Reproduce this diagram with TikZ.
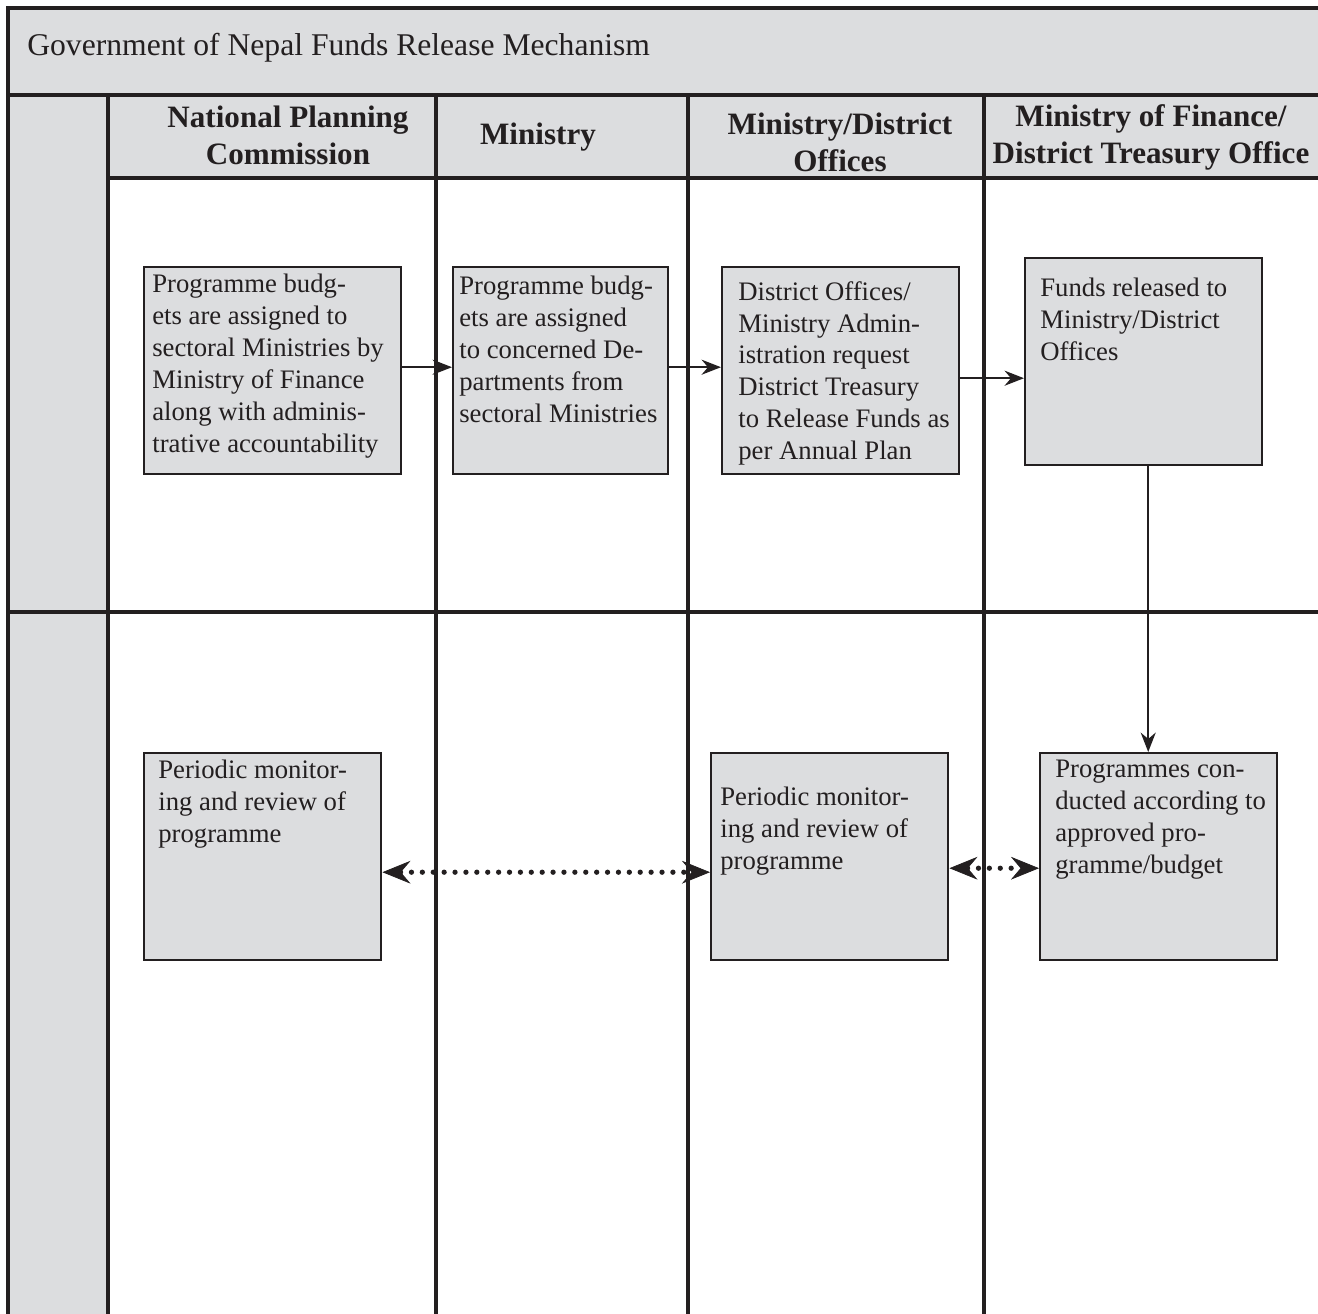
\documentclass[tikz,border=0pt]{standalone}
\usepackage{fontspec}
\setmainfont{Liberation Serif}
\usetikzlibrary{arrows.meta}
\definecolor{lanegray}{RGB}{220,221,223}
\definecolor{ink}{RGB}{35,31,32}

\begin{document}
\begin{tikzpicture}[x=0.02cm,y=-0.02cm,
    lane/.style={draw=ink,line width=2pt},
    procbox/.style={draw=ink,fill=lanegray,line width=1.4pt,inner sep=0pt,
        anchor=north west,minimum height=4.14cm,minimum width=4.74cm},
    boxtext/.style={anchor=north west,inner sep=0pt,align=left,text=ink,
        font=\fontsize{15.2}{18.14}\selectfont},
    lanehead/.style={align=center,text=ink,
        font=\fontsize{17.7}{21}\selectfont\bfseries},
    flow/.style={draw=ink,line width=1.4pt,-{Stealth[length=11pt,width=8.5pt]}},
    review/.style={draw=ink,line width=3pt,line cap=round,
        dash pattern=on 0pt off 6.2pt,
        {Stealth[length=16pt,width=13pt,inset=5.5pt,line width=0.4pt]}-{Stealth[length=16pt,width=13pt,inset=5.5pt,line width=0.4pt]}}]

    \useasboundingbox (0,0) rectangle (1318,1314);
    \fill[white] (0,0) rectangle (1318,1314);
    \clip (0,0) rectangle (1318,1314);

    % swim lanes
    \fill[lanegray] (8,8) rectangle (1340,95);
    \fill[lanegray] (108,95) rectangle (1340,178);
    \fill[lanegray] (8,95) rectangle (108,1340);
    \draw[lane] (1340,8) -- (8,8) -- (8,1340);
    \draw[lane] (8,95) -- (1340,95);
    \draw[lane] (108,178) -- (1340,178);
    \draw[lane] (8,612) -- (1340,612);
    \foreach \x in {108,436,688,984}
        \draw[lane] (\x,95) -- (\x,1340);

    \node[anchor=west,inner sep=0pt,text=ink,font=\fontsize{18}{21}\selectfont]
        (title) at (27,48) {Government of Nepal Funds Release Mechanism};
    \node[lanehead] (npc) at (288,135) {National Planning\\Commission};
    \node[lanehead] (min) at (538,137) {Ministry};
    \node[lanehead] (mdo) at (840,142) {Ministry/District\\Offices};
    \node[lanehead] (mof) at (1151,137) {Ministry of Finance/\\District Treasury Office};

    % boxes
    \node[procbox,minimum width=5.14cm] (b1) at (143,266) {};
    \node[procbox,minimum width=4.30cm] (b2) at (452,266) {};
    \node[procbox] (b3) at (721,266) {};
    \node[procbox] (b4) at (1024,257) {};
    \node[procbox] (b5) at (143,752) {};
    \node[procbox] (b6) at (710,752) {};
    \node[procbox] (b7) at (1039,752) {};

    \node[boxtext] (b1t) at (152,274) {Programme budg-\\ets are assigned to\\sectoral Ministries by\\Ministry of Finance\\along with adminis-\\trative accountability};
    \node[boxtext] (b2t) at (459,276) {Programme budg-\\ets are assigned\\to concerned De-\\partments from\\sectoral Ministries};
    \node[boxtext] (b3t) at (738,281) {District Offices/\\Ministry Admin-\\istration request\\District Treasury\\to Release Funds as\\per Annual Plan};
    \node[boxtext] (b4t) at (1040,278) {Funds released to\\Ministry/District\\Offices};
    \node[boxtext] (b5t) at (158,760) {Periodic monitor-\\ing and review of\\programme};
    \node[boxtext] (b6t) at (720,787) {Periodic monitor-\\ing and review of\\programme};
    \node[boxtext] (b7t) at (1055,760) {Programmes con-\\ducted according to\\approved pro-\\gramme/budget};

    % connectors
    \draw[flow] ([yshift=0.07cm]b1.east) -- ([yshift=0.07cm]b2.west);
    \draw[flow] ([yshift=0.07cm]b2.east) -- ([yshift=0.07cm]b3.west);
    \coordinate (c3) at ([yshift=-0.15cm]b3.east);
    \draw[flow] (c3) -- (c3 -| b4.west);
    \coordinate (c4) at ([xshift=0.09cm]b4.south);
    \draw[flow] (c4) -- (c4 |- b7.north);
    \draw[review] ([yshift=-0.31cm]b5.east) -- ([yshift=-0.31cm]b6.west);
    \draw[review] ([yshift=-0.23cm]b6.east) -- ([yshift=-0.23cm]b7.west);

\end{tikzpicture}
\end{document}
